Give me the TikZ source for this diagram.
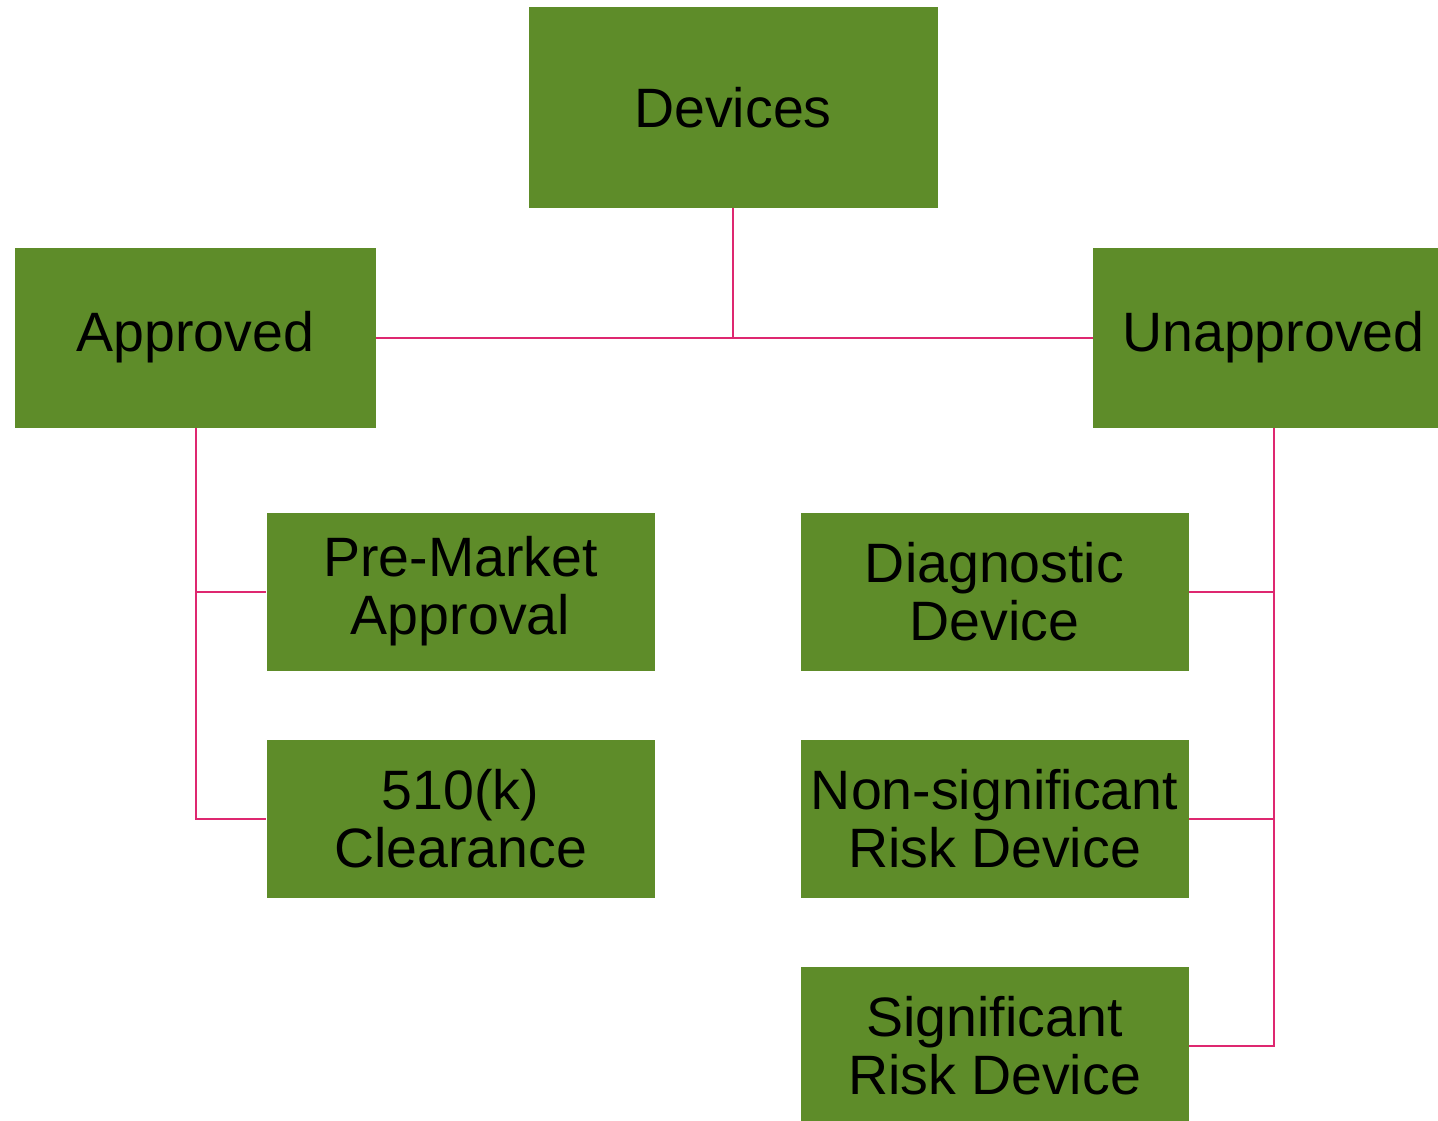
\documentclass[tikz,border=0pt]{standalone}
\usepackage{fontspec}
\setmainfont{Liberation Sans}
\definecolor{boxgreen}{RGB}{94,140,41}
\definecolor{linkpink}{RGB}{222,40,112}
\begin{document}
\begin{tikzpicture}[x=1pt,y=-1pt,
  box/.style={fill=boxgreen, draw=none, inner sep=0pt, align=center,
    font=\fontsize{55.5}{58}\selectfont},
  bigbox/.style={box, minimum width=409pt, minimum height=201pt},
  midbox/.style={box, minimum width=361pt, minimum height=180pt},
  smallbox/.style={box, minimum width=388pt, minimum height=158pt},
  link/.style={draw=linkpink, line width=2pt}]
\useasboundingbox (0,0) rectangle (1438,1120);
\clip (0,0) rectangle (1438,1120);
\node[bigbox] (dev) at (733,107.5) {Devices};
\node[midbox] (appr) at (195.5,337.5) {Approved};
\node[midbox] (unappr) at (1273.5,337.5) {Unapproved};
\node[smallbox] (pma) at (460.5,591.5) {Pre-Market\\Approval};
\node[smallbox] (clr) at (460.5,818.5) {510(k)\\Clearance};
\node[smallbox] (diag) at (994.5,591.5) {Diagnostic\\Device};
\node[smallbox] (nsr) at (994.5,818.5) {Non-significant\\Risk Device};
\node[smallbox] (sr) at (994.5,1045.5) {Significant\\Risk Device};
\draw[link] (appr.east) -- (unappr.west);
\draw[link] (dev.south) -- (dev.south |- appr.east);
\draw[link] (appr.south) -- (appr.south |- clr.west) -- (clr.west);
\draw[link] (appr.south |- pma.west) -- (pma.west);
\draw[link] (unappr.south) -- (unappr.south |- sr.east) -- (sr.east);
\draw[link] (unappr.south |- diag.east) -- (diag.east);
\draw[link] (unappr.south |- nsr.east) -- (nsr.east);
\end{tikzpicture}
\end{document}
